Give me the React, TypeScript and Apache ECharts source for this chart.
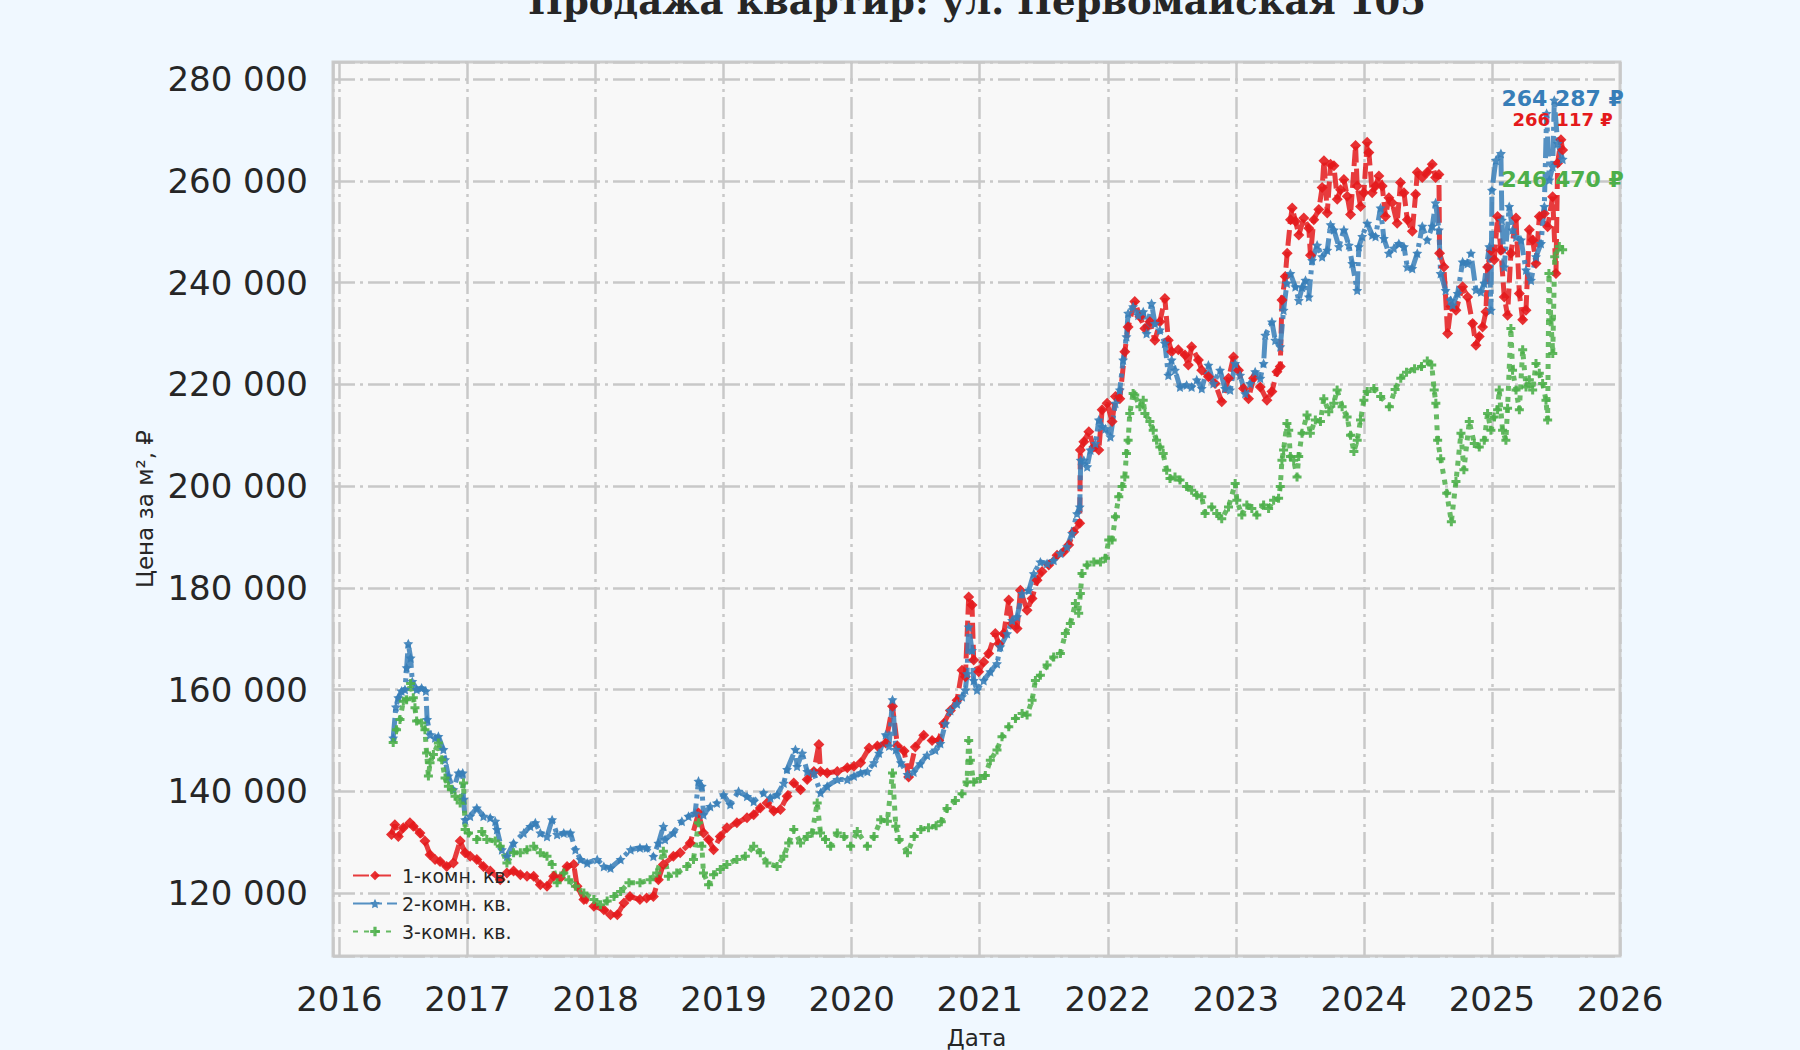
import { useEffect, useRef } from 'react'
import * as echarts from 'echarts'

const TITLE = 'Продажа квартир: ул. Первомайская 105'
const X_NAME = 'Дата'
const Y_NAME = 'Цена за м², ₽'
const SERIES_NAMES = ['1-комн. кв.', '2-комн. кв.', '3-комн. кв.']
const COLORS = ['#e41a1c', '#377eb8', '#4daf4a']

// [date as decimal year, price per m²]
const oneRoom: [number, number][] = [
  [2016.407, 131500], [2016.433, 133400], [2016.46, 131100], [2016.499, 132800], [2016.551, 133800], [2016.577, 133100],
  [2016.629, 131800], [2016.668, 130200], [2016.708, 127500], [2016.747, 126600], [2016.786, 126200], [2016.838, 125200],
  [2016.89, 125900], [2016.943, 130200], [2016.982, 127900], [2017.021, 127200], [2017.073, 126600], [2017.125, 125200],
  [2017.178, 124300], [2017.256, 122600], [2017.308, 123900], [2017.36, 124300], [2017.413, 123600], [2017.465, 123300],
  [2017.517, 123300], [2017.569, 121600], [2017.621, 121300], [2017.674, 123300], [2017.726, 123000], [2017.778, 125200],
  [2017.83, 125600], [2017.856, 121300], [2017.909, 118700], [2017.987, 117400], [2018.065, 116700], [2018.117, 115700],
  [2018.17, 115700], [2018.222, 118000], [2018.269, 119300], [2018.347, 118700], [2018.399, 119000], [2018.452, 119300],
  [2018.491, 122600], [2018.53, 125600], [2018.608, 127200], [2018.661, 127900], [2018.739, 129800], [2018.804, 135700],
  [2018.843, 131800], [2018.883, 130500], [2018.922, 128500], [2018.974, 131100], [2019.026, 132800], [2019.104, 133800],
  [2019.183, 134800], [2019.235, 135400], [2019.287, 136700], [2019.339, 137700], [2019.392, 136100], [2019.444, 136400],
  [2019.496, 139000], [2019.548, 141600], [2019.601, 140300], [2019.653, 142300], [2019.705, 143900], [2019.744, 149200],
  [2019.757, 143900], [2019.809, 143600], [2019.888, 143900], [2019.966, 144600], [2020.018, 144900], [2020.07, 145600],
  [2020.136, 148500], [2020.201, 148900], [2020.266, 149500], [2020.319, 156700], [2020.358, 148900], [2020.41, 147900],
  [2020.445, 142800], [2020.497, 148700], [2020.563, 151000], [2020.628, 150000], [2020.68, 150000], [2020.719, 153300],
  [2020.771, 155900], [2020.823, 157900], [2020.862, 163800], [2020.888, 162500], [2020.914, 178200], [2020.94, 176600],
  [2020.953, 165800], [2020.992, 163500], [2021.031, 165400], [2021.07, 167100], [2021.122, 171000], [2021.148, 169000],
  [2021.188, 171000], [2021.227, 177600], [2021.253, 173000], [2021.292, 172000], [2021.318, 179500], [2021.37, 175600],
  [2021.409, 177900], [2021.448, 181500], [2021.487, 183200], [2021.539, 184500], [2021.604, 186400], [2021.656, 187100],
  [2021.695, 188400], [2021.734, 191000], [2021.781, 192700], [2021.786, 207100], [2021.813, 208700], [2021.852, 210700],
  [2021.891, 207700], [2021.93, 207100], [2021.956, 215000], [2021.995, 216300], [2022.034, 212700], [2022.06, 217600],
  [2022.094, 217200], [2022.133, 226400], [2022.159, 231300], [2022.211, 236300], [2022.251, 233300], [2022.29, 231000],
  [2022.329, 232300], [2022.368, 228700], [2022.407, 232300], [2022.446, 236900], [2022.473, 228700], [2022.499, 226400],
  [2022.551, 226800], [2022.603, 225800], [2022.629, 223800], [2022.655, 227400], [2022.708, 224800], [2022.734, 222800],
  [2022.786, 221500], [2022.838, 220200], [2022.89, 216600], [2022.943, 221200], [2022.982, 225400], [2023.021, 222800],
  [2023.06, 219200], [2023.099, 217200], [2023.138, 221200], [2023.191, 219500], [2023.243, 216900], [2023.282, 218600],
  [2023.321, 222500], [2023.347, 223500], [2023.36, 236600], [2023.386, 241200], [2023.401, 245800], [2023.427, 252400],
  [2023.44, 254700], [2023.466, 252100], [2023.492, 249400], [2023.531, 252700], [2023.57, 250700], [2023.583, 245400],
  [2023.609, 252400], [2023.648, 254400], [2023.674, 258700], [2023.688, 264000], [2023.714, 253700], [2023.74, 263300],
  [2023.766, 263000], [2023.792, 256400], [2023.818, 258300], [2023.844, 260300], [2023.87, 257000], [2023.896, 253400],
  [2023.935, 267000], [2023.948, 259000], [2023.974, 255000], [2024.0, 257700], [2024.026, 267600], [2024.039, 265600],
  [2024.065, 257700], [2024.091, 259000], [2024.117, 261000], [2024.143, 259000], [2024.169, 253000], [2024.195, 256700],
  [2024.221, 255700], [2024.26, 251700], [2024.286, 259700], [2024.313, 257700], [2024.339, 252400], [2024.378, 250100],
  [2024.404, 257400], [2024.417, 261700], [2024.456, 260700], [2024.495, 261700], [2024.534, 263300], [2024.56, 260700],
  [2024.586, 261300], [2024.591, 245800], [2024.625, 243100], [2024.654, 230000], [2024.68, 235300], [2024.719, 234600],
  [2024.771, 239200], [2024.81, 237200], [2024.849, 232000], [2024.875, 227700], [2024.901, 229400], [2024.927, 231300],
  [2024.953, 234300], [2024.966, 243100], [2024.992, 246400], [2025.018, 244500], [2025.044, 253000], [2025.07, 246400],
  [2025.096, 237200], [2025.122, 233600], [2025.148, 245800], [2025.188, 252700], [2025.214, 237900], [2025.24, 232700],
  [2025.266, 234600], [2025.292, 250400], [2025.318, 248400], [2025.344, 243800], [2025.37, 253000], [2025.409, 253600],
  [2025.435, 251000], [2025.474, 256900], [2025.5, 241800], [2025.513, 263500], [2025.539, 268100], [2025.552, 266117],
]

const twoRoom: [number, number][] = [
  [2016.42, 150500], [2016.441, 156600], [2016.46, 158400], [2016.486, 159700], [2016.512, 160000], [2016.525, 164300],
  [2016.538, 169000], [2016.556, 166200], [2016.569, 161600], [2016.603, 160000], [2016.642, 160300], [2016.675, 159700],
  [2016.685, 154100], [2016.708, 151100], [2016.747, 150500], [2016.773, 150800], [2016.812, 148200], [2016.825, 146200],
  [2016.851, 143000], [2016.89, 140300], [2016.93, 143600], [2016.963, 143600], [2016.969, 138400], [2016.982, 134400],
  [2017.021, 135100], [2017.073, 136700], [2017.125, 135100], [2017.178, 134800], [2017.217, 134100], [2017.23, 132500],
  [2017.269, 128500], [2017.308, 127200], [2017.36, 129800], [2017.439, 131800], [2017.491, 133100], [2017.53, 133800],
  [2017.569, 131800], [2017.621, 131100], [2017.661, 134400], [2017.7, 131500], [2017.752, 131800], [2017.804, 131800],
  [2017.843, 128500], [2017.883, 126600], [2017.935, 125900], [2018.013, 126600], [2018.065, 125200], [2018.117, 124900],
  [2018.196, 126600], [2018.274, 128500], [2018.347, 128900], [2018.399, 128900], [2018.452, 127200], [2018.491, 129800],
  [2018.53, 133100], [2018.543, 130500], [2018.608, 131800], [2018.674, 134100], [2018.726, 135100], [2018.778, 135700],
  [2018.804, 142000], [2018.83, 141000], [2018.843, 135400], [2018.896, 137000], [2018.948, 137700], [2019.0, 139300],
  [2019.052, 137400], [2019.117, 140000], [2019.183, 139000], [2019.235, 138000], [2019.313, 139700], [2019.366, 138700],
  [2019.418, 139300], [2019.47, 141600], [2019.496, 144300], [2019.561, 148200], [2019.574, 144900], [2019.614, 147500],
  [2019.653, 143900], [2019.705, 143600], [2019.757, 139700], [2019.809, 141000], [2019.888, 142300], [2019.966, 142300],
  [2020.018, 143000], [2020.07, 143600], [2020.123, 143900], [2020.175, 145600], [2020.214, 147500], [2020.266, 151100],
  [2020.292, 148900], [2020.319, 158000], [2020.345, 148200], [2020.384, 145600], [2020.436, 143300], [2020.484, 143800],
  [2020.536, 145400], [2020.589, 147100], [2020.654, 148100], [2020.693, 149400], [2020.732, 153300], [2020.771, 155900],
  [2020.823, 157200], [2020.862, 158600], [2020.888, 159900], [2020.901, 163100], [2020.914, 172300], [2020.94, 167700],
  [2020.953, 161800], [2020.979, 159900], [2021.031, 161800], [2021.083, 163500], [2021.135, 165100], [2021.161, 168400],
  [2021.214, 171000], [2021.253, 173600], [2021.292, 174300], [2021.331, 178900], [2021.383, 179500], [2021.422, 182800],
  [2021.474, 185100], [2021.526, 184800], [2021.578, 185400], [2021.63, 186800], [2021.682, 188100], [2021.721, 190700],
  [2021.76, 194600], [2021.781, 195900], [2021.789, 205100], [2021.813, 205100], [2021.839, 203800], [2021.865, 207100],
  [2021.904, 208400], [2021.93, 213000], [2021.956, 211700], [2021.982, 211300], [2022.021, 209700], [2022.06, 216300],
  [2022.094, 218900], [2022.12, 224800], [2022.146, 229400], [2022.159, 234000], [2022.198, 235300], [2022.238, 233600],
  [2022.277, 234300], [2022.303, 230000], [2022.342, 235900], [2022.368, 232000], [2022.407, 230700], [2022.446, 228100],
  [2022.473, 221800], [2022.499, 224800], [2022.525, 222800], [2022.564, 219500], [2022.616, 219900], [2022.655, 219500],
  [2022.695, 220900], [2022.734, 219200], [2022.786, 223800], [2022.825, 220200], [2022.877, 222800], [2022.916, 219200],
  [2022.956, 218900], [2022.995, 224100], [2023.034, 221800], [2023.073, 218200], [2023.112, 220200], [2023.151, 222500],
  [2023.191, 221200], [2023.217, 224100], [2023.23, 229700], [2023.282, 232300], [2023.308, 228700], [2023.347, 227400],
  [2023.373, 234600], [2023.399, 239900], [2023.426, 241800], [2023.465, 239200], [2023.492, 236500], [2023.518, 239100],
  [2023.544, 240500], [2023.57, 237200], [2023.596, 244400], [2023.635, 247400], [2023.674, 245100], [2023.714, 246400],
  [2023.74, 251400], [2023.766, 250400], [2023.805, 247100], [2023.844, 250400], [2023.883, 247400], [2023.909, 243800],
  [2023.948, 238500], [2023.961, 247100], [2023.987, 249100], [2024.026, 251700], [2024.065, 249400], [2024.091, 249100],
  [2024.13, 254700], [2024.156, 248700], [2024.195, 245800], [2024.234, 246800], [2024.273, 247700], [2024.313, 247100],
  [2024.339, 243100], [2024.378, 242800], [2024.417, 245800], [2024.456, 251100], [2024.495, 248400], [2024.534, 251100],
  [2024.56, 255700], [2024.586, 250400], [2024.599, 241800], [2024.638, 238500], [2024.677, 236500], [2024.693, 235600],
  [2024.732, 237900], [2024.771, 244100], [2024.81, 243800], [2024.836, 245800], [2024.875, 238600], [2024.914, 238200],
  [2024.94, 239900], [2024.979, 247100], [2024.992, 234600], [2025.0, 258200], [2025.031, 264100], [2025.07, 265400],
  [2025.078, 252300], [2025.096, 243100], [2025.135, 255000], [2025.161, 250400], [2025.188, 249000], [2025.227, 248400],
  [2025.266, 242500], [2025.305, 240500], [2025.344, 245100], [2025.383, 247700], [2025.409, 255000], [2025.427, 273300],
  [2025.448, 260200], [2025.474, 262800], [2025.487, 275900], [2025.513, 267400], [2025.552, 264287],
]

const threeRoom: [number, number][] = [
  [2016.42, 149600], [2016.446, 152100], [2016.473, 154100], [2016.499, 157700], [2016.525, 158000], [2016.556, 161200],
  [2016.577, 158400], [2016.59, 156400], [2016.603, 153800], [2016.642, 153400], [2016.668, 152100], [2016.681, 147500],
  [2016.695, 143000], [2016.708, 145600], [2016.734, 147200], [2016.773, 149500], [2016.799, 146200], [2016.825, 142600],
  [2016.851, 141000], [2016.877, 140300], [2016.903, 139000], [2016.943, 137700], [2016.969, 141600], [2016.982, 132500],
  [2017.008, 131800], [2017.073, 130500], [2017.112, 132100], [2017.151, 130500], [2017.217, 130200], [2017.256, 129200],
  [2017.308, 125900], [2017.36, 127900], [2017.413, 127900], [2017.465, 128500], [2017.517, 129200], [2017.569, 127900],
  [2017.621, 127200], [2017.661, 125600], [2017.7, 122000], [2017.752, 123900], [2017.791, 122600], [2017.843, 121300],
  [2017.909, 120000], [2017.987, 118700], [2018.039, 117700], [2018.091, 118400], [2018.144, 119300], [2018.196, 120300],
  [2018.261, 122000], [2018.347, 122000], [2018.426, 122600], [2018.478, 123900], [2018.53, 128200], [2018.569, 123300],
  [2018.634, 123900], [2018.713, 125200], [2018.765, 126600], [2018.804, 133800], [2018.83, 129200], [2018.843, 123900],
  [2018.883, 121600], [2018.922, 123600], [2018.974, 124600], [2019.026, 125600], [2019.104, 126600], [2019.17, 127200],
  [2019.235, 129200], [2019.287, 127900], [2019.339, 125900], [2019.418, 125200], [2019.47, 127200], [2019.509, 129800],
  [2019.548, 132500], [2019.601, 129800], [2019.653, 131100], [2019.692, 131800], [2019.731, 137700], [2019.757, 131800],
  [2019.796, 130500], [2019.836, 129200], [2019.888, 131800], [2019.94, 131100], [2019.992, 129200], [2020.044, 132100],
  [2020.123, 129200], [2020.175, 131100], [2020.227, 134400], [2020.279, 134100], [2020.319, 143600], [2020.345, 133100],
  [2020.371, 130500], [2020.436, 127900], [2020.488, 131100], [2020.54, 132500], [2020.6, 132800], [2020.66, 133200],
  [2020.7, 134000], [2020.745, 136600], [2020.81, 138200], [2020.862, 139500], [2020.901, 141800], [2020.914, 150000],
  [2020.927, 146100], [2020.953, 141800], [2021.005, 142500], [2021.044, 143100], [2021.083, 146100], [2021.135, 148100],
  [2021.174, 150700], [2021.227, 152700], [2021.279, 154300], [2021.331, 155300], [2021.37, 155000], [2021.409, 157900],
  [2021.435, 161800], [2021.474, 162800], [2021.526, 164800], [2021.578, 166400], [2021.63, 167100], [2021.669, 171000],
  [2021.708, 173000], [2021.747, 176900], [2021.773, 175000], [2021.786, 178900], [2021.799, 182800], [2021.839, 184500],
  [2021.891, 185100], [2021.943, 185100], [2021.982, 185800], [2022.008, 189400], [2022.034, 189400], [2022.06, 194000],
  [2022.086, 197900], [2022.112, 199900], [2022.133, 201800], [2022.146, 206400], [2022.159, 209000], [2022.172, 214300],
  [2022.198, 218200], [2022.211, 217900], [2022.251, 215600], [2022.277, 216900], [2022.29, 214300], [2022.329, 212700],
  [2022.355, 211000], [2022.381, 209000], [2022.407, 207700], [2022.433, 206400], [2022.46, 203100], [2022.486, 201500],
  [2022.525, 201800], [2022.564, 201200], [2022.616, 199900], [2022.655, 199200], [2022.695, 198200], [2022.734, 197900],
  [2022.76, 194600], [2022.812, 195900], [2022.851, 194600], [2022.89, 193600], [2022.943, 195900], [2022.995, 200500],
  [2023.008, 197200], [2023.047, 194300], [2023.086, 196300], [2023.125, 195600], [2023.164, 194300], [2023.217, 196300],
  [2023.256, 195600], [2023.295, 197200], [2023.334, 197600], [2023.347, 199900], [2023.36, 205100], [2023.373, 207100],
  [2023.399, 212300], [2023.413, 211000], [2023.426, 205800], [2023.452, 205100], [2023.478, 201800], [2023.491, 205800],
  [2023.517, 210400], [2023.556, 214000], [2023.582, 210400], [2023.621, 213000], [2023.661, 212700], [2023.687, 217200],
  [2023.726, 214600], [2023.765, 216300], [2023.791, 218900], [2023.83, 215600], [2023.869, 213600], [2023.896, 210000],
  [2023.922, 206800], [2023.948, 209000], [2023.974, 213000], [2024.0, 216900], [2024.026, 218600], [2024.078, 219200],
  [2024.131, 217600], [2024.199, 215600], [2024.244, 219000], [2024.288, 221200], [2024.333, 222400], [2024.396, 223100],
  [2024.45, 223500], [2024.495, 224600], [2024.53, 223800], [2024.549, 218900], [2024.562, 216300], [2024.576, 209000],
  [2024.6, 205400], [2024.647, 198600], [2024.683, 193000], [2024.719, 200900], [2024.758, 210400], [2024.781, 203200],
  [2024.823, 212700], [2024.862, 208400], [2024.901, 207700], [2024.94, 209000], [2024.966, 214300], [2024.992, 211000],
  [2025.018, 213600], [2025.044, 215000], [2025.057, 218900], [2025.083, 211000], [2025.109, 209000], [2025.122, 215300],
  [2025.148, 231000], [2025.161, 222800], [2025.188, 218900], [2025.214, 215000], [2025.24, 226800], [2025.266, 219500],
  [2025.292, 220900], [2025.318, 218900], [2025.344, 224100], [2025.37, 222200], [2025.396, 220200], [2025.422, 216900],
  [2025.435, 213000], [2025.445, 241800], [2025.46, 232700], [2025.475, 226100], [2025.49, 245100], [2025.526, 247100],
  [2025.552, 246470],
]

const SERIES_DATA = [oneRoom, twoRoom, threeRoom]

// matplotlib-like markers: diamond, star, filled plus
const STAR = 'path://M0,-10 L2.9,-4 L9.5,-3.1 L4.7,1.5 L5.9,8.1 L0,5 L-5.9,8.1 L-4.7,1.5 L-9.5,-3.1 L-2.9,-4 Z'
const PLUS = 'path://M-1,-3 L1,-3 L1,-1 L3,-1 L3,1 L1,1 L1,3 L-1,3 L-1,1 L-3,1 L-3,-1 L-1,-1 Z'
const SYMBOLS = ['diamond', STAR, PLUS]
const SYMBOL_SIZES = [11, 10, 9]
const DASHES = [[16, 6], [20, 5, 4, 5], [5, 6]]
const LABEL_OFFSETS = [[0, -30], [0, -61], [0, -70]]
const LABEL_SIZES = [18, 22, 22]

const FONT = 'DejaVu Sans'
const TEXT = '#262626'

const spaced = (v: number) => String(Math.round(v)).replace(/\B(?=(\d{3})+(?!\d))/g, ' ')

export default function App() {
  const ref = useRef<HTMLDivElement>(null)

  useEffect(() => {
    if (!ref.current) return
    const chart = echarts.init(ref.current, undefined, { renderer: 'svg' })

    const series = SERIES_NAMES.map((name, i) => {
      const data = SERIES_DATA[i]
      const last = data[data.length - 1]
      return {
        type: 'line',
        name,
        data,
        symbol: SYMBOLS[i],
        symbolSize: SYMBOL_SIZES[i],
        showAllSymbol: true,
        lineStyle: { color: COLORS[i], width: 5, type: DASHES[i], opacity: 0.85, cap: 'butt' },
        itemStyle: { color: COLORS[i], opacity: 0.9 },
        emphasis: { disabled: true },
        markPoint: {
          symbol: 'circle',
          symbolSize: 1,
          itemStyle: { color: 'transparent' },
          label: {
            show: true,
            position: 'inside',
            offset: LABEL_OFFSETS[i],
            formatter: () => `${spaced(last[1])} ₽`,
            color: COLORS[i],
            fontFamily: FONT,
            fontWeight: 'bold',
            fontSize: LABEL_SIZES[i],
          },
          data: [{ coord: last, value: last[1] }],
        },
      }
    })

    chart.setOption({
      animation: false,
      backgroundColor: '#f0f8ff',
      textStyle: { fontFamily: FONT },
      graphic: [
        {
          type: 'text',
          x: 977,
          y: 1,
          style: {
            text: TITLE,
            fill: TEXT,
            font: 'bold 37px "DejaVu Serif"',
            textAlign: 'center',
            textVerticalAlign: 'middle',
          },
        },
      ],
      grid: {
        left: 333,
        right: 180,
        top: 62,
        bottom: 94,
        show: true,
        backgroundColor: '#f8f8f8',
        borderColor: '#cccccc',
        borderWidth: 3,
        outerBoundsMode: 'none',
      },
      legend: {
        orient: 'vertical',
        left: 347,
        top: 861,
        itemWidth: 44,
        itemHeight: 12,
        itemGap: 9,
        textStyle: { fontSize: 19, color: TEXT, fontFamily: FONT },
        data: SERIES_NAMES,
      },
      xAxis: {
        type: 'value',
        min: 2015.95,
        max: 2026,
        splitNumber: 10,
        name: X_NAME,
        nameLocation: 'middle',
        nameGap: 70,
        nameTextStyle: { fontSize: 23, color: TEXT, fontFamily: FONT },
        axisLine: { show: false },
        axisTick: { show: false },
        axisLabel: {
          fontSize: 34,
          color: TEXT,
          margin: 26,
          showMinLabel: false,
          formatter: (v: number) => String(Math.round(v)),
        },
        splitLine: { show: true, lineStyle: { color: '#c8c8c8', width: 2.5, type: [22, 5, 3, 5] } },
      },
      yAxis: {
        type: 'value',
        min: 107600,
        max: 283400,
        splitNumber: 9,
        name: Y_NAME,
        nameLocation: 'middle',
        nameGap: 175,
        nameTextStyle: { fontSize: 23, color: TEXT, fontFamily: FONT },
        axisLine: { show: false },
        axisTick: { show: false },
        axisLabel: {
          fontSize: 34,
          color: TEXT,
          margin: 25,
          showMinLabel: false,
          showMaxLabel: false,
          formatter: (v: number) => spaced(v),
        },
        splitLine: { show: true, lineStyle: { color: '#c8c8c8', width: 2.5, type: [22, 5, 3, 5] } },
      },
      series,
    })

    return () => chart.dispose()
  }, [])

  return (
    <div
      ref={ref}
      style={{ position: 'fixed', left: 0, top: 0, width: 1800, height: 1050, background: '#f0f8ff' }}
    />
  )
}
